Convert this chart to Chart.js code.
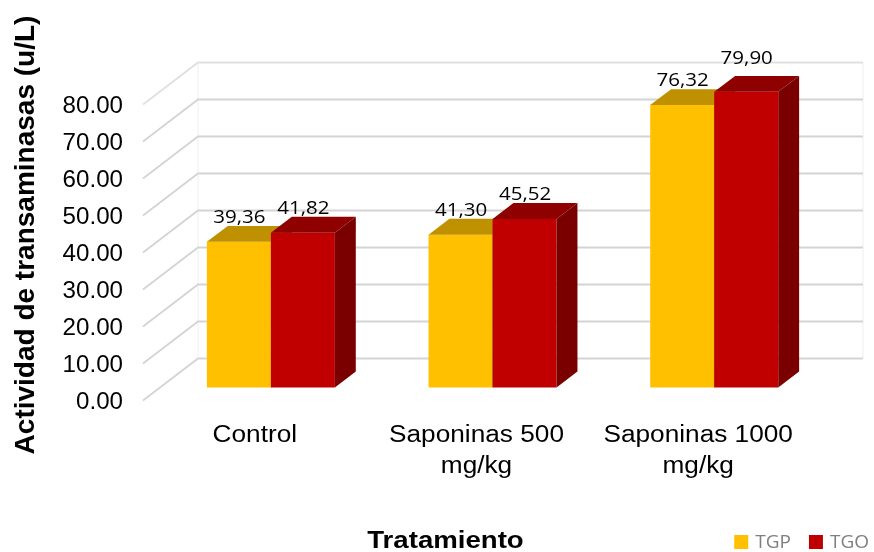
<!DOCTYPE html>
<html>
<head>
<meta charset="utf-8">
<script src="https://cdn.jsdelivr.net/npm/chart.js@4.4.1/dist/chart.umd.min.js"></script>
<style>
  html, body { margin: 0; padding: 0; background: #ffffff; }
  #wrap { width: 874px; height: 552px; }
</style>
</head>
<body>
<div id="wrap"><canvas id="chart" width="874" height="552"></canvas></div>
<script>
// ---- data ----
const categories = [['Control'], ['Saponinas 500', 'mg/kg'], ['Saponinas 1000', 'mg/kg']];
const seriesNames = ['TGP', 'TGO'];
const tgpValues = [39.36, 41.30, 76.32];
const tgoValues = [41.82, 45.52, 79.90];
const yTickValues = [0, 10, 20, 30, 40, 50, 60, 70, 80];
const yTitle = 'Actividad de transaminasas (u/L)';
const xTitle = 'Tratamiento';

// ---- look ----
const faceColors = [
  { front: '#FFC000', top: '#BF9000', side: '#A07800' },
  { front: '#C00000', top: '#8F0000', side: '#7A0000' }
];
const DEPTH_X = 55, DEPTH_Y = -42;     // floor depth: front edge -> back wall
const BAR_NEAR = 0.31, BAR_FAR = 0.69; // bar slab position inside the depth
const SANS = '"Liberation Sans", Arial, sans-serif';
const LABEL_FONT = '"Open Sans", "Noto Sans", sans-serif';
// extra lift (px) for value labels, per series / category
const labelLift = [[0, 0, 0], [0, 0, 9]];

function drawText(ctx, str, x, y, font, color, align, sx, rotate) {
  ctx.save();
  ctx.translate(x, y);
  if (rotate) ctx.rotate(rotate);
  ctx.scale(sx || 1, 1);
  ctx.font = font;
  ctx.fillStyle = color;
  ctx.textAlign = align || 'left';
  ctx.textBaseline = 'alphabetic';
  ctx.fillText(str, 0, 0);
  ctx.restore();
}

function poly(ctx, pts, fill) {
  ctx.beginPath();
  ctx.moveTo(pts[0][0], pts[0][1]);
  for (let i = 1; i < pts.length; i++) ctx.lineTo(pts[i][0], pts[i][1]);
  ctx.closePath();
  ctx.fillStyle = fill;
  ctx.fill();
}

const scene3d = {
  id: 'scene3d',
  beforeDatasetsDraw(chart) {
    const ctx = chart.ctx;
    const a = chart.chartArea;
    const ys = chart.scales.y;
    const yMin = ys.getPixelForValue(yTickValues[0]);
    const yMax = ys.getPixelForValue(yTickValues[yTickValues.length - 1]);

    ctx.save();
    // back wall side edges
    ctx.strokeStyle = '#EEEEEE';
    ctx.lineWidth = 1;
    [a.left + DEPTH_X, a.right + DEPTH_X].forEach(px => {
      ctx.beginPath();
      ctx.moveTo(px, yMin + DEPTH_Y);
      ctx.lineTo(px, yMax + DEPTH_Y);
      ctx.stroke();
    });
    // gridlines: left wall diagonal + back wall horizontal
    yTickValues.forEach((v, i) => {
      const y = ys.getPixelForValue(v);
      ctx.strokeStyle = i === yTickValues.length - 1 ? '#E0E0E0' : '#D4D4D4';
      ctx.lineWidth = 1.8;
      ctx.beginPath();
      ctx.moveTo(a.left, y);
      ctx.lineTo(a.left + DEPTH_X, y + DEPTH_Y);
      ctx.lineTo(a.right + DEPTH_X, y + DEPTH_Y);
      ctx.stroke();
    });
    ctx.restore();

    // bars, painted left to right: front, top, side
    const nx = BAR_NEAR * DEPTH_X, ny = BAR_NEAR * DEPTH_Y;
    const bx = (BAR_FAR - BAR_NEAR) * DEPTH_X, by = (BAR_FAR - BAR_NEAR) * DEPTH_Y;
    const n = chart.data.labels.length;
    ctx.save();
    for (let i = 0; i < n; i++) {
      chart.data.datasets.forEach((ds, d) => {
        const el = chart.getDatasetMeta(d).data[i];
        const c = faceColors[d];
        const L = el.x - el.width / 2 + nx, R = L + el.width;
        const T = el.y + ny, B = el.base + ny;
        poly(ctx, [[L, T], [R, T], [R, B], [L, B]], c.front);
        poly(ctx, [[L, T], [R, T], [R + bx, T + by], [L + bx, T + by]], c.top);
        poly(ctx, [[R, T], [R + bx, T + by], [R + bx, B + by], [R, B]], c.side);
      });
    }
    ctx.restore();
    return false;
  },
  afterDraw(chart) {
    const ctx = chart.ctx;
    const a = chart.chartArea;
    const ys = chart.scales.y, xs = chart.scales.x;
    const ny = BAR_NEAR * DEPTH_Y, nx = BAR_NEAR * DEPTH_X;
    const by = (BAR_FAR - BAR_NEAR) * DEPTH_Y;

    // value labels
    chart.data.datasets.forEach((ds, d) => {
      chart.getDatasetMeta(d).data.forEach((el, i) => {
        const txt = ds.data[i].toFixed(2).replace('.', ',');
        drawText(ctx, txt, el.x + nx + 0.5, el.y + ny + by - 3 - labelLift[d][i],
          '19px ' + LABEL_FONT, '#000000', 'center', 1.08);
      });
    });

    // y tick labels
    yTickValues.forEach(v => {
      drawText(ctx, v.toFixed(2), a.left - 20, ys.getPixelForValue(v) + 8,
        '23px ' + SANS, '#000000', 'right', 1.05);
    });

    // category labels
    chart.data.labels.forEach((lab, i) => {
      const cx = xs.getPixelForValue(i) + 1;
      lab.forEach((line, k) => {
        drawText(ctx, line, cx, a.bottom + 41 + k * 31,
          '23px ' + SANS, '#000000', 'center', 1.14);
      });
    });

    // axis titles
    drawText(ctx, xTitle, 445.5, 548, 'bold 23px ' + SANS, '#000000', 'center', 1.2);
    drawText(ctx, yTitle, 34, 235, 'bold 28px ' + SANS, '#000000', 'center', 1, -Math.PI / 2);

    // legend, right aligned
    ctx.save();
    ctx.font = '19px ' + LABEL_FONT;
    const box = 14, gapBox = 7, gapItem = 18, legendRight = 869, baseY = 548;
    const widths = seriesNames.map(s => box + gapBox + ctx.measureText(s).width);
    ctx.restore();
    let x = legendRight - widths.reduce((s, w) => s + w, 0) - gapItem * (seriesNames.length - 1);
    seriesNames.forEach((s, d) => {
      ctx.fillStyle = faceColors[d].front;
      ctx.fillRect(x, baseY - 13, box, box);
      drawText(ctx, s, x + box + gapBox, baseY, '19px ' + LABEL_FONT, '#7F7F7F', 'left', 1);
      x += widths[d] + gapItem;
    });
  }
};

new Chart(document.getElementById('chart'), {
  type: 'bar',
  data: {
    labels: categories,
    datasets: [
      { label: seriesNames[0], data: tgpValues, backgroundColor: faceColors[0].front },
      { label: seriesNames[1], data: tgoValues, backgroundColor: faceColors[1].front }
    ]
  },
  options: {
    responsive: false,
    animation: false,
    devicePixelRatio: 1,
    layout: { padding: { left: 143, right: 66, top: 104.5, bottom: 151.5 } },
    datasets: { bar: { categoryPercentage: 0.5775, barPercentage: 1 } },
    scales: {
      x: { display: false },
      y: { display: false, min: 0, max: 80 }
    },
    plugins: { legend: { display: false }, tooltip: { enabled: false } }
  },
  plugins: [scene3d]
});
</script>
</body>
</html>
